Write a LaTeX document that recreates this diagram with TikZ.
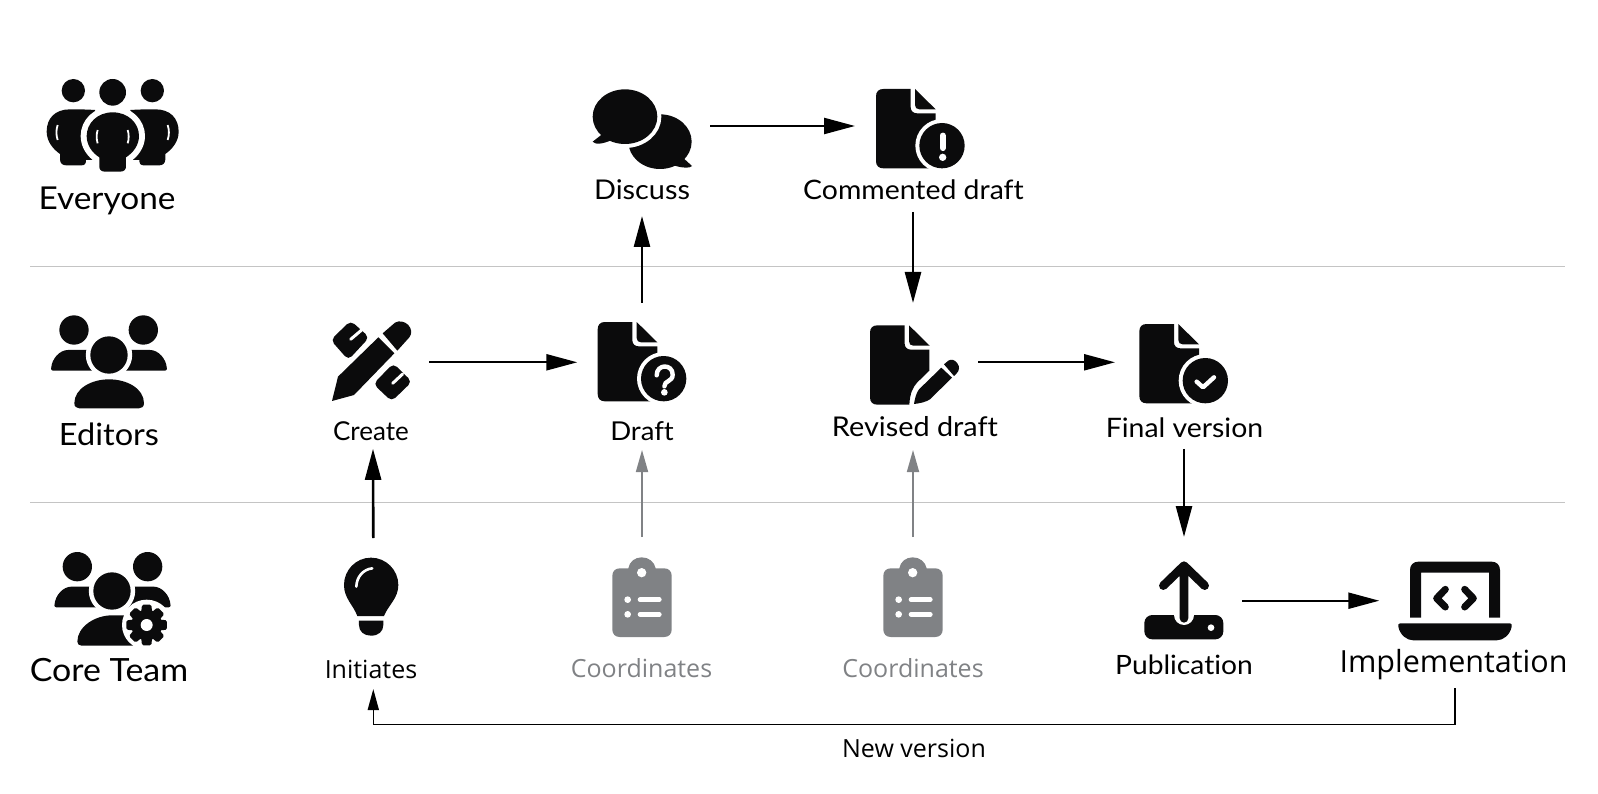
\documentclass[tikz,border=0pt]{standalone}
\usepackage{fontspec}
\usetikzlibrary{arrows.meta}
\newfontfamily\nun[FakeStretch=1.06,Ligatures=NoCommon]{Lato}
\newfontfamily\nunplain[Ligatures=NoCommon]{Lato}
\newfontfamily\myr{Open Sans}
\definecolor{ick}{HTML}{0B0B0C}
\definecolor{gr}{HTML}{808285}
\definecolor{rule}{HTML}{C4C4C4}
\newcommand\ringed[2]{\draw[white,line width=#1,line join=round] #2; \fill #2;}
\newcommand\docbody{%
  \fill (22,0) -- (104,0) -- (104,55) .. controls (104,66) and (112,73) .. (123,73) -- (179,73) -- (179,216) .. controls (179,230) and (170,238) .. (157,238) -- (22,238) .. controls (8,238) and (0,230) .. (0,216) -- (0,22) .. controls (0,8) and (8,0) .. (22,0) -- cycle;
  \docfold}
\newcommand\docfold{\fill (117,0) -- (179,61) -- (130,61) .. controls (122,61) and (117,56) .. (117,48) -- cycle;}
\newcommand\docbadge{%
  \fill[white] (198,170) circle (80);
  \fill (198,170) circle (68);}
\newcommand\clipboard{%
  \fill (89,85) -- (115,85) .. controls (118,65) and (135,52) .. (155,52) .. controls (176,52) and (193,65) .. (197,85) -- (223,85) .. controls (236,85) and (245,94) .. (245,107) -- (245,269) .. controls (245,282) and (236,291) .. (223,291) -- (89,291) .. controls (76,291) and (67,282) .. (67,269) -- (67,107) .. controls (67,94) and (76,85) .. (89,85) -- cycle;
  \fill[white] (155,98) circle (14) (113,179) circle (10) (113,223) circle (10);
  \draw[white,line width=4.6pt,line cap=round] (150,179) -- (208,179) (150,223) -- (208,223);}
\tikzset{
  ic/.style={scale=1/3,color=ick},
  slot/.style={inner sep=0pt,outer sep=0pt,minimum width=#1},
  lab/.style={inner sep=0pt,outer sep=0pt,anchor=base,text=black},
  flow/.style={line width=2.3pt,draw=black,-{Triangle[length=31pt,width=16pt]}},
  flowv/.style={line width=2.6pt,draw=black,-{Triangle[length=31pt,width=16pt]}},
  soft/.style={line width=1.7pt,draw=gr,-{Triangle[length=22pt,width=12pt]}},
  back/.style={line width=1.6pt,draw=black,-{Triangle[length=21pt,width=11pt]}},
  sep/.style={line width=1pt,draw=rule},
}
\begin{document}
\begin{tikzpicture}[x=1pt,y=-1pt]
\useasboundingbox (0,0) rectangle (1598,794);
% rows
\coordinate (ruleA) at (30,267); \coordinate (ruleAe) at (1565,267);
\coordinate (ruleB) at (30,502.5); \coordinate (ruleBe) at (1565,502.5);
\draw[sep] (ruleA) -- (ruleAe);
\draw[sep] (ruleB) -- (ruleBe);
% Everyone icon
\begin{scope}[shift={(20,60)},ic]
  \fill (160,92) circle (35) (397,92) circle (35);
  \fill (278,97) circle (40);
  \fill (225,150) .. controls (195,148) and (170,148) .. (150,148) .. controls (105,148) and (80,175) .. (80,215) .. controls (80,245) and (100,268) .. (120,282) -- (120,298) .. controls (120,310) and (128,316) .. (138,316) -- (185,316) .. controls (195,316) and (198,310) .. (198,300) -- (230,300) -- cycle;
  \fill (331,150) .. controls (361,148) and (386,148) .. (406,148) .. controls (451,148) and (476,175) .. (476,215) .. controls (476,245) and (456,268) .. (436,282) -- (436,298) .. controls (436,310) and (428,316) .. (418,316) -- (371,316) .. controls (361,316) and (358,310) .. (358,300) -- (326,300) -- cycle;
  \ringed{12pt}{(278,157) .. controls (325,157) and (357,190) .. (357,228) .. controls (357,255) and (340,278) .. (318,292) -- (318,320) .. controls (318,330) and (310,335) .. (300,335) -- (255,335) .. controls (245,335) and (238,330) .. (238,320) -- (238,292) .. controls (216,278) and (200,255) .. (200,228) .. controls (200,190) and (232,157) .. (278,157) -- cycle}
  \draw[white,line width=1.8pt] (113,195) .. controls (108,210) and (108,225) .. (113,240);
  \draw[white,line width=1.8pt] (443,195) .. controls (448,210) and (448,225) .. (443,240);
  \draw[white,line width=1.8pt] (233,210) .. controls (229,222) and (229,238) .. (233,250);
  \draw[white,line width=1.8pt] (323,210) .. controls (327,222) and (327,238) .. (323,250);
\end{scope}
% Editors icon
\begin{scope}[shift={(20,60)},ic]
  \fill (162,810) circle (44) (370,810) circle (44);
  \fill[rounded corners=2pt] (93,932) .. controls (95,895) and (120,870) .. (150,870) -- (230,870) -- (230,932) -- cycle;
  \fill[rounded corners=2pt] (441,932) .. controls (439,895) and (414,870) .. (384,870) -- (304,870) -- (304,932) -- cycle;
  \ringed{9pt}{(267,885) circle (56)}
  \fill (163,1030) .. controls (163,985) and (215,958) .. (267,958) .. controls (320,958) and (372,985) .. (372,1030) .. controls (372,1040) and (365,1045) .. (357,1045) -- (178,1045) .. controls (170,1045) and (163,1040) .. (163,1030) -- cycle;
\end{scope}
% Core Team icon
\begin{scope}[shift={(20,530)},ic]
  \fill (172,110) circle (44) (383,110) circle (44);
  \fill[rounded corners=2pt] (103,232) .. controls (105,195) and (130,170) .. (160,170) -- (240,170) -- (240,232) -- cycle;
  \fill[rounded corners=2pt] (452,232) .. controls (450,195) and (425,170) .. (395,170) -- (315,170) -- (315,232) -- cycle;
  \fill[white] (380,285) circle (76);
  \ringed{9pt}{(276,183) circle (56)}
  \fill (172,335) .. controls (172,290) and (225,256) .. (276,256) -- (320,256) -- (340,347) -- (185,347) .. controls (177,347) and (172,342) .. (172,335) -- cycle;
  \fill[white] (380,285) circle (74);
  \fill (380,285) circle (46);
  \foreach \a in {0,45,...,315}{
    \fill[rotate around={\a:(380,285)},rounded corners=1.5pt] (366,224) -- (394,224) -- (398,262) -- (362,262) -- cycle;}
  \fill[white] (380,285) circle (18);
\end{scope}
% Bulb
\begin{scope}[shift={(20,530)},ic]
  \fill (1053,83) .. controls (1098,83) and (1135,120) .. (1135,165) .. controls (1135,205) and (1105,225) .. (1092,258) -- (1012,258) .. controls (1000,225) and (972,205) .. (972,165) .. controls (972,120) and (1008,83) .. (1053,83) -- cycle;
  \fill (1017,272) -- (1090,272) -- (1090,285) .. controls (1090,305) and (1075,317) .. (1053,317) .. controls (1032,317) and (1017,305) .. (1017,285) -- cycle;
  \draw[white,line width=2.6pt,line cap=round] (1009,170) .. controls (1010,140) and (1030,118) .. (1057,115);
\end{scope}
% Discuss
\begin{scope}[shift={(560,70)},ic]
  \fill (300,215) ellipse (95 and 82);
  \fill (360,255) -- (396,288) .. controls (392,295) and (360,295) .. (335,283) -- cycle;
  \draw[white,line width=8pt] (195,140) ellipse (97 and 82);
  \fill (195,140) ellipse (97 and 82);
  \fill (130,190) -- (98,215) .. controls (105,225) and (130,222) .. (155,210) -- cycle;
\end{scope}
% Commented draft
\begin{scope}[shift={(876,89)},ic]
  \docbody \docbadge
  \draw[white,line width=6.2pt,line cap=round] (200,140) -- (200,177);
  \fill[white] (200,205) circle (11);
\end{scope}
% Draft
\begin{scope}[shift={(597.67,322)},ic]
  \docbody \docbadge
  \draw[white,line width=4.4pt,line cap=round] (177,160) .. controls (177,125) and (225,125) .. (225,158) .. controls (225,180) and (200,175) .. (200,193);
  \fill[white] (200,211) circle (10);
\end{scope}
% Final version
\begin{scope}[shift={(1139.33,324)},ic]
  \docbody \docbadge
  \draw[white,line width=4.4pt,line cap=round,line join=round] (172,173) -- (191,190) -- (224,160);
\end{scope}
% Revised draft
\begin{scope}[shift={(840,300)},ic]
  \fill (112,76) -- (194,76) -- (194,131) .. controls (194,142) and (202,149) .. (213,149) -- (268,149) -- (268,212) -- (232,247) .. controls (218,262) and (210,280) .. (208,314) -- (112,314) .. controls (98,314) and (90,306) .. (90,292) -- (90,98) .. controls (90,84) and (98,76) .. (112,76) -- cycle;
  \fill (207,76) -- (269,137) -- (220,137) .. controls (212,137) and (207,132) .. (207,124) -- cycle;
  \fill[line join=round] (222,312) .. controls (225,295) and (228,280) .. (237,268) -- (304,203) -- (336,233) -- (270,298) .. controls (258,306) and (240,310) .. (222,312) -- cycle;
  \fill (312,193) -- (325,182) .. controls (335,176) and (345,180) .. (352,190) .. controls (360,200) and (358,212) .. (350,220) -- (342,228) -- cycle;
\end{scope}
% Pencil and ruler
\begin{scope}[shift={(310,300)},ic]
  \fill[rounded corners=5pt] (62,120) -- (122,62) -- (178,112) -- (115,180) -- cycle;
  \fill[rounded corners=5pt] (190,252) -- (250,190) -- (306,245) -- (245,304) -- cycle;
  \draw[white,line width=3pt,line cap=round] (122,118) -- (155,90) (248,250) -- (278,222);
  \ringed{8pt}{(205,112) -- (253,160) -- (132,285) -- (66,303) -- (84,230) -- cycle}
  \fill (218,100) -- (255,68) .. controls (268,60) and (285,65) .. (295,75) .. controls (305,87) and (307,100) .. (298,112) -- (262,152) -- cycle;
\end{scope}
% Clipboards
\begin{scope}[shift={(590,540)},scale=1/3,color=gr]\clipboard\end{scope}
\begin{scope}[shift={(861,540)},scale=1/3,color=gr]\clipboard\end{scope}
% Publication
\begin{scope}[shift={(1100,535)},ic]
  \fill[rounded corners=8pt] (133,240) rectangle (370,313);
  \fill[white] (252,240) circle (30);
  \fill[white] (220,230) rectangle (284,240);
  \fill[white] (333,278) circle (10);
  \draw[line width=8.6pt,line cap=round,line join=round] (252,250) -- (252,92) (190,152) -- (252,92) -- (314,152);
\end{scope}
% Laptop
\begin{scope}[shift={(1100,535)},ic]
  \fill (930,248) -- (930,105) .. controls (930,90) and (940,80) .. (955,80) -- (1175,80) .. controls (1190,80) and (1200,90) .. (1200,105) -- (1200,248) -- (1167,248) -- (1167,113) -- (963,113) -- (963,248) -- cycle;
  \fill (900,265) -- (1230,265) .. controls (1235,265) and (1236,270) .. (1235,275) .. controls (1230,300) and (1210,316) .. (1190,316) -- (940,316) .. controls (920,316) and (900,300) .. (895,275) .. controls (894,270) and (895,265) .. (900,265) -- cycle;
  \draw[line width=7pt,line cap=round,line join=round] (1036,163) -- (1010,190) -- (1036,216) (1094,163) -- (1120,190) -- (1094,216);
\end{scope}
% invisible slots that carry the connector ends
\node[slot=136pt,minimum height=180pt] (discuss) at (642,126) {};
\node[slot=116pt,minimum height=172pt] (commented) at (913,126) {};
\node[slot=112.6pt,minimum height=173pt] (create) at (373,362.3) {};
\node[slot=129.4pt,minimum height=118.6pt] (draft) at (642,362.3) {};
\node[slot=130pt,minimum height=118.6pt] (revised) at (913,362.3) {};
\node[slot=138pt,minimum height=173pt] (final) at (1184,362.3) {};
\node[slot=116.6pt,minimum height=127.4pt] (publication) at (1184,600.7) {};
\node[slot=151.4pt,minimum height=174.6pt] (laptop) at (1455,600.7) {};
\node[slot=20pt,minimum height=151pt] (initiates) at (373.3,613.5) {};
\node[slot=20pt,minimum height=126pt] (coordA) at (642,600) {};
\node[slot=20pt,minimum height=126pt] (coordB) at (913,600) {};
\coordinate (nv) at (914,724.4);
% connectors
\draw[flow] (discuss.east) -- (commented.west);
\draw[flowv] (draft.north) -- (discuss.south);
\draw[flowv] (commented.south) -- (revised.north);
\draw[flow] (create.east) -- (draft.west);
\draw[flow] (revised.east) -- (final.west);
\draw[flowv] (initiates.north) -- (create.south);
\draw[flowv] (final.south) -- (publication.north);
\draw[flow] (publication.east) -- (laptop.west);
\draw[soft] (coordA.north) -- ([yshift=-28.4pt]draft.south);
\draw[soft] (coordB.north) -- ([yshift=-28.4pt]revised.south);
\draw[back] (laptop.south) |- (nv) -| (initiates.south);
% labels
\node[lab,font=\nun\fontsize{31.5}{31.5}\selectfont] (lEveryone) at (107,209.5) {Everyone};
\node[lab,font=\nun\fontsize{30.7}{30.7}\selectfont] (lEditors) at (109,445) {Editors};
\node[lab,font=\nun\fontsize{32}{32}\selectfont] (lCore) at (109,681) {Core Team};
\node[lab,font=\nun\fontsize{27.2}{27.2}\selectfont] (lDiscuss) at (642,200) {Discuss};
\node[lab,font=\nun\fontsize{26.8}{26.8}\selectfont] (lCommented) at (913.5,200) {Commented draft};
\node[lab,font=\nunplain\fontsize{26}{26}\selectfont] (lCreate) at (371,440) {Create};
\node[lab,font=\nun\fontsize{26}{26}\selectfont] (lDraft) at (642,440) {Draft};
\node[lab,font=\nun\fontsize{27.2}{27.2}\selectfont] (lRevised) at (915,436) {Revised draft};
\node[lab,font=\nun\fontsize{26.8}{26.8}\selectfont] (lFinal) at (1184.5,437) {Final version};
\node[lab,font=\myr\fontsize{25}{25}\selectfont] (lInitiates) at (371,678) {Initiates};
\node[lab,font=\myr\fontsize{25}{25}\selectfont,text=gr] (lCoordA) at (641.5,677.5) {Coordinates};
\node[lab,font=\myr\fontsize{25}{25}\selectfont,text=gr] (lCoordB) at (913,677.5) {Coordinates};
\node[lab,font=\nun\fontsize{26.6}{26.6}\selectfont] (lPublication) at (1184,674) {Publication};
\node[lab,font=\myr\fontsize{30.5}{30.5}\selectfont] (lImpl) at (1453.5,672) {Implementation};
\node[lab,font=\myr\fontsize{25}{25}\selectfont] (lNew) at (914,757) {New version};
\end{tikzpicture}
\end{document}
